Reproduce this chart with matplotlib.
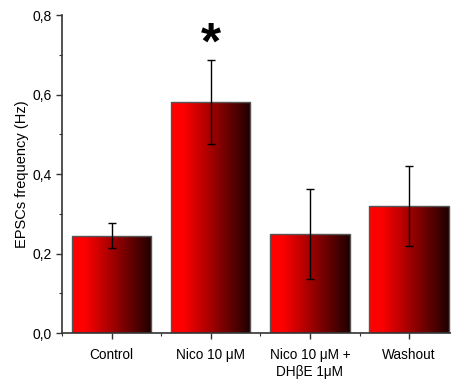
import numpy as np
import matplotlib
matplotlib.use("Agg")
import matplotlib.pyplot as plt
from matplotlib.colors import LinearSegmentedColormap
from matplotlib.ticker import MultipleLocator

# EPSC frequency per condition
labels = ["Control", "Nico 10 μM", "Nico 10 μM +\nDHβE 1μM", "Washout"]
freq = [0.245, 0.581, 0.249, 0.320]
sem = [0.031, 0.106, 0.113, 0.100]
yticks = [0.0, 0.2, 0.4, 0.6, 0.8]

plt.rcParams["font.family"] = ["Liberation Sans", "DejaVu Sans"]

fig = plt.figure(figsize=(4.51, 3.85), dpi=100)
ax = fig.add_axes([0.1375, 0.135, 0.862, 0.826])

x = np.arange(len(labels))
bars = ax.bar(x, freq, width=0.8, color="none", edgecolor="#555555", linewidth=1.0, zorder=2)

# red -> near black horizontal gradient, like the original
cmap = LinearSegmentedColormap.from_list(
    "redblk", [(0, (1, 0, 0)), (0.15, (1, 0, 0)), (1, (0.12, 0, 0))])
grad = np.linspace(0, 1, 256).reshape(1, -1)
for b in bars:
    x0, w, h = b.get_x(), b.get_width(), b.get_height()
    im = ax.imshow(grad, cmap=cmap, aspect="auto", extent=(x0, x0 + w, 0, h),
                   zorder=1, interpolation="bilinear")
    im.set_clip_path(b)

ax.errorbar(x, freq, yerr=sem, fmt="none", ecolor="black", elinewidth=1.0,
            capsize=3, capthick=1.0, zorder=3)

# significance marker above Nico bar
ax.text(1, 0.69, "*", ha="center", va="baseline", fontsize=37, fontweight="bold")

ax.set_xlim(-0.5, 3.42)
ax.set_ylim(0, 0.8)
ax.set_xticks(x)
ax.set_xticklabels(labels, fontsize=9.8, va="top")
ax.xaxis.set_minor_locator(MultipleLocator(0.5))
ax.set_yticks(yticks)
ax.yaxis.set_minor_locator(MultipleLocator(0.1))
ax.set_yticklabels([f"{v:.1f}".replace(".", ",") for v in yticks], fontsize=10)
ax.set_ylabel("EPSCs frequency (Hz)", fontsize=10.5, labelpad=2)

ax.tick_params(axis="both", which="major", direction="out", length=4, width=1, color="#333333")
ax.tick_params(axis="both", which="minor", direction="out", length=2.5, width=0.8, color="#333333")
ax.tick_params(axis="x", which="major", pad=7)
ax.tick_params(axis="x", which="minor", length=2)

for side in ["top", "right"]:
    ax.spines[side].set_visible(False)
for side in ["left", "bottom"]:
    ax.spines[side].set_linewidth(1.2)
    ax.spines[side].set_color("#333333")

fig.savefig("out.png", dpi=100)
